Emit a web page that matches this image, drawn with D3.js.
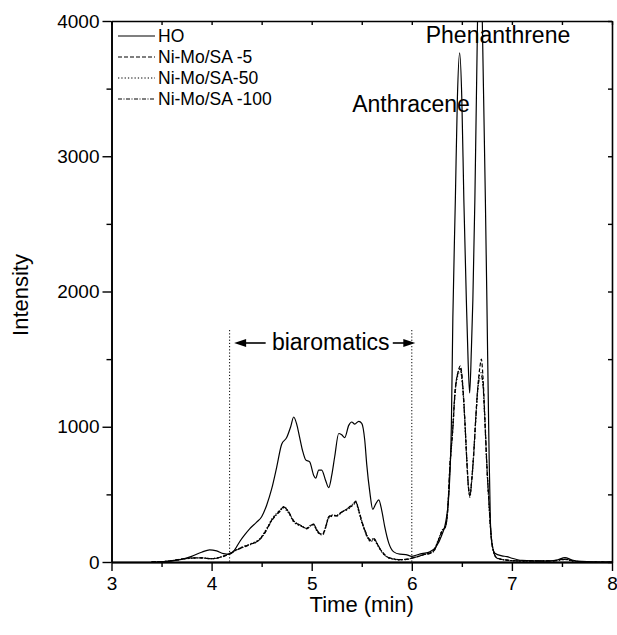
<!DOCTYPE html>
<html>
<head>
<meta charset="utf-8">
<script src="https://cdn.jsdelivr.net/npm/d3@7"></script>
<style>
  body { margin: 0; background: #fff; }
  text { font-family: "Liberation Sans", Arial, sans-serif; fill: #000; }
</style>
</head>
<body>
<script>
// HO trace
const hoTime = [3.40, 3.50, 3.60, 3.70, 3.80, 3.90, 3.98, 4.05, 4.12, 4.18, 4.23, 4.28, 4.33, 4.38, 4.45, 4.50, 4.55, 4.60, 4.65, 4.70,
  4.75, 4.79, 4.82, 4.85, 4.88, 4.91, 4.94, 4.98, 5.02, 5.04, 5.07, 5.10, 5.14, 5.17, 5.20, 5.23, 5.27, 5.30, 5.33, 5.37,
  5.40, 5.43, 5.47, 5.50, 5.53, 5.55, 5.58, 5.61, 5.64, 5.67, 5.70, 5.73, 5.77, 5.82, 5.88, 5.94, 6.00, 6.05, 6.10, 6.18,
  6.24, 6.30, 6.34, 6.37, 6.395, 6.41, 6.435, 6.455, 6.478, 6.50, 6.52, 6.545, 6.562, 6.578, 6.595, 6.61, 6.63, 6.645, 6.678, 6.718,
  6.735, 6.75, 6.77, 6.785, 6.80, 6.83, 6.90, 6.95, 7.00, 7.10, 7.30, 7.45, 7.53, 7.60, 7.70, 7.90, 8.00]
const hoIntensity = [0, 2, 8, 20, 42, 72, 90, 82, 62, 58, 90, 150, 200, 245, 295, 335, 420, 540, 700, 870,
  920, 1000, 1072, 1020, 920, 820, 755, 740, 640, 620, 680, 680, 600, 550, 640, 780, 950, 940, 920, 1010,
  1035, 1020, 1040, 1025, 900, 720, 520, 390, 430, 460, 380, 260, 140, 75, 58, 55, 42, 52, 62, 75,
  110, 200, 300, 500, 1000, 1800, 2676, 3416, 3765, 3416, 2676, 1937, 1500, 1250, 1565, 1937, 2676, 3416, 4700, 3416,
  2676, 1937, 900, 300, 140, 65, 45, 40, 28, 12, 6, 15, 32, 15, 4, 0, 0]

// catalyst traces share one time axis
const catTime = [3.40, 3.50, 3.60, 3.70, 3.80, 3.90, 4.00, 4.10, 4.18, 4.25, 4.32, 4.40, 4.47, 4.52, 4.56, 4.60, 4.65, 4.69, 4.72, 4.75,
  4.78, 4.82, 4.86, 4.90, 4.95, 4.99, 5.02, 5.05, 5.08, 5.11, 5.14, 5.17, 5.21, 5.25, 5.30, 5.35, 5.38, 5.42, 5.44, 5.47,
  5.50, 5.53, 5.56, 5.59, 5.62, 5.65, 5.68, 5.72, 5.76, 5.82, 5.88, 5.95, 6.00, 6.06, 6.12, 6.18, 6.22, 6.26, 6.30, 6.34,
  6.36, 6.38, 6.41, 6.43, 6.46, 6.485, 6.51, 6.53, 6.55, 6.565, 6.58, 6.60, 6.62, 6.64, 6.66, 6.68, 6.695, 6.71, 6.73, 6.75,
  6.77, 6.79, 6.81, 6.85, 6.95, 7.10, 7.40, 7.53, 7.62, 7.75, 8.00]
const ni5 = [0, 2, 10, 22, 30, 30, 24, 38, 62, 90, 112, 135, 160, 205, 255, 310, 355, 385, 410, 390,
  355, 300, 280, 265, 245, 270, 280, 235, 210, 205, 260, 330, 345, 340, 370, 390, 405, 430, 450, 380,
  300, 235, 180, 158, 172, 140, 100, 60, 35, 22, 17, 20, 28, 40, 55, 65, 82, 150, 225, 270,
  400, 700, 1000, 1245, 1400, 1450, 1300, 1050, 752, 560, 490, 620, 826, 1080, 1300, 1440, 1500, 1380, 1072, 720,
  456, 220, 100, 30, 14, 8, 8, 22, 8, 0, 0]
const ni50 = [0, 2, 9, 20, 28, 30, 25, 40, 64, 92, 115, 138, 165, 210, 260, 315, 360, 390, 400, 380,
  350, 295, 275, 262, 250, 272, 275, 230, 205, 200, 255, 325, 340, 345, 372, 385, 400, 425, 440, 372,
  292, 228, 175, 150, 165, 135, 95, 56, 33, 20, 16, 19, 27, 42, 56, 66, 85, 155, 230, 275,
  410, 690, 980, 1220, 1380, 1410, 1270, 1030, 740, 555, 480, 610, 810, 1060, 1280, 1390, 1400, 1330, 1050, 700,
  440, 210, 95, 28, 13, 7, 7, 18, 6, 0, 0]
const ni100 = [0, 2, 9, 21, 29, 31, 24, 37, 60, 88, 110, 133, 158, 200, 250, 305, 350, 380, 405, 392,
  358, 305, 282, 268, 248, 268, 278, 240, 212, 208, 262, 335, 348, 342, 368, 392, 410, 435, 445, 385,
  305, 240, 185, 162, 175, 142, 102, 62, 36, 23, 18, 21, 29, 41, 54, 64, 80, 148, 222, 268,
  395, 695, 990, 1235, 1395, 1430, 1290, 1040, 745, 565, 495, 615, 815, 1070, 1290, 1360, 1370, 1320, 1040, 710,
  450, 215, 98, 30, 14, 8, 8, 20, 7, 0, 0]

const seriesNames = ["HO", "Ni-Mo/SA -5", "Ni-Mo/SA-50", "Ni-Mo/SA -100"]
const xTicks = [3, 4, 5, 6, 7, 8]
const yTicks = [0, 1000, 2000, 3000, 4000]
const regionBounds = [4.18, 6.0]

const w = 617
const h = 635
const mLeft = 111.5, mRight = 612, mTop = 21, mBottom = 562

const svg = d3.select("body")
  .append("svg")
  .attr("width", w)
  .attr("height", h)

const x = d3.scaleLinear().domain([3, 8]).range([mLeft, mRight])
const y = d3.scaleLinear().domain([0, 4000]).range([mBottom, mTop])

// clip so the phenanthrene peak is cut at the frame
svg.append("clipPath").attr("id", "plot-clip")
  .append("rect")
  .attr("x", mLeft).attr("y", mTop)
  .attr("width", mRight - mLeft).attr("height", mBottom - mTop)

const series = [
  { name: seriesNames[0], t: hoTime, v: hoIntensity, dash: null },
  { name: seriesNames[1], t: catTime, v: ni5, dash: "4,2" },
  { name: seriesNames[2], t: catTime, v: ni50, dash: "1.3,2" },
  { name: seriesNames[3], t: catTime, v: ni100, dash: "4,1.5,1,1.5" }
]

const line = d3.line()
  .x(d => x(d[0]))
  .y(d => y(d[1]))
  .curve(d3.curveMonotoneX)

const plot = svg.append("g").attr("clip-path", "url(#plot-clip)")

// draw the catalyst traces first, HO on top
series.slice().reverse().forEach(s => {
  plot.append("path")
    .datum(s.t.map((t, i) => [t, s.v[i]]))
    .attr("d", line)
    .attr("fill", "none")
    .attr("stroke", "#000")
    .attr("stroke-width", 1.2)
    .attr("stroke-dasharray", s.dash)
})

// biaromatics bounds
regionBounds.forEach(t => {
  svg.append("line")
    .attr("x1", x(t)).attr("x2", x(t))
    .attr("y1", y(1715)).attr("y2", y(0))
    .attr("stroke", "#000")
    .attr("stroke-width", 1)
    .attr("stroke-dasharray", "1.2,2")
})

// axes
const axisStyle = g => {
  g.selectAll("path, line").attr("stroke", "#000")
  g.select(".domain").attr("stroke-width", 1.6)
  g.selectAll(".tick line").attr("stroke-width", 1.4)
  g.selectAll("text").style("font-size", "19px").style("font-family", "Liberation Sans, Arial, sans-serif")
}

// minor ticks
svg.append("g")
  .attr("transform", `translate(0,${mBottom})`)
  .call(d3.axisBottom(x).tickValues(d3.range(3.5, 8, 1)).tickSize(5).tickSizeOuter(0).tickFormat(""))
  .call(axisStyle)
svg.append("g")
  .attr("transform", `translate(${mLeft},0)`)
  .call(d3.axisLeft(y).tickValues(d3.range(500, 4000, 1000)).tickSize(5).tickSizeOuter(0).tickFormat(""))
  .call(axisStyle)

// top and right axes, ticks inside
svg.append("g")
  .attr("transform", `translate(0,${mTop})`)
  .call(d3.axisTop(x).tickValues(d3.range(3, 8.01, 0.5)).tickSize(-4).tickSizeOuter(0).tickFormat(""))
  .call(axisStyle)
svg.append("g")
  .attr("transform", `translate(${mRight},0)`)
  .call(d3.axisRight(y).tickValues(d3.range(0, 4001, 500)).tickSize(-4).tickSizeOuter(0).tickFormat(""))
  .call(axisStyle)

const xAxis = svg.append("g")
  .attr("transform", `translate(0,${mBottom})`)
  .call(d3.axisBottom(x).tickValues(xTicks).tickSize(9).tickSizeOuter(0).tickPadding(6).tickFormat(d3.format("d")))
  .call(axisStyle)
xAxis.select(".domain").attr("stroke-width", 2.2)

svg.append("g")
  .attr("transform", `translate(${mLeft},0)`)
  .call(d3.axisLeft(y).tickValues(yTicks).tickSize(9).tickSizeOuter(0).tickPadding(3).tickFormat(d3.format("d")))
  .call(axisStyle)

// axis titles
svg.append("text")
  .attr("x", (mLeft + mRight) / 2)
  .attr("y", 612)
  .attr("text-anchor", "middle")
  .style("font-size", "22px")
  .text("Time (min)")

svg.append("text")
  .attr("transform", "translate(28,295) rotate(-90)")
  .attr("text-anchor", "middle")
  .style("font-size", "22px")
  .text("Intensity")

// peak labels
svg.append("text")
  .attr("x", 498).attr("y", 43)
  .attr("text-anchor", "middle")
  .style("font-size", "23px")
  .text("Phenanthrene")

svg.append("text")
  .attr("x", 411).attr("y", 112)
  .attr("text-anchor", "middle")
  .style("font-size", "23px")
  .text("Anthracene")

// biaromatics label with arrows
const arrowY = 343
svg.append("text")
  .attr("x", x(5.19)).attr("y", arrowY + 7)
  .attr("text-anchor", "middle")
  .style("font-size", "23px")
  .text("biaromatics")

const arrows = [[x(4.54), x(4.225)], [x(5.81), x(6.035)]]
arrows.forEach(a => {
  const dir = a[1] > a[0] ? 1 : -1
  svg.append("line")
    .attr("x1", a[0]).attr("x2", a[1] - dir * 10)
    .attr("y1", arrowY).attr("y2", arrowY)
    .attr("stroke", "#000").attr("stroke-width", 1.6)
  svg.append("path")
    .attr("d", `M${a[1]},${arrowY} L${a[1] - dir * 12},${arrowY - 4} L${a[1] - dir * 12},${arrowY + 4} Z`)
    .attr("fill", "#000")
})

// legend
const legend = svg.append("g").attr("id", "legend")
series.forEach((s, i) => {
  const ly = 36 + i * 21
  legend.append("line")
    .attr("x1", 118).attr("x2", 155)
    .attr("y1", ly).attr("y2", ly)
    .attr("stroke", "#000")
    .attr("stroke-width", 1.2)
    .attr("stroke-dasharray", s.dash)
  legend.append("text")
    .attr("x", 158).attr("y", ly + 6)
    .style("font-size", "17.5px")
    .text(s.name)
})
</script>
</body>
</html>
